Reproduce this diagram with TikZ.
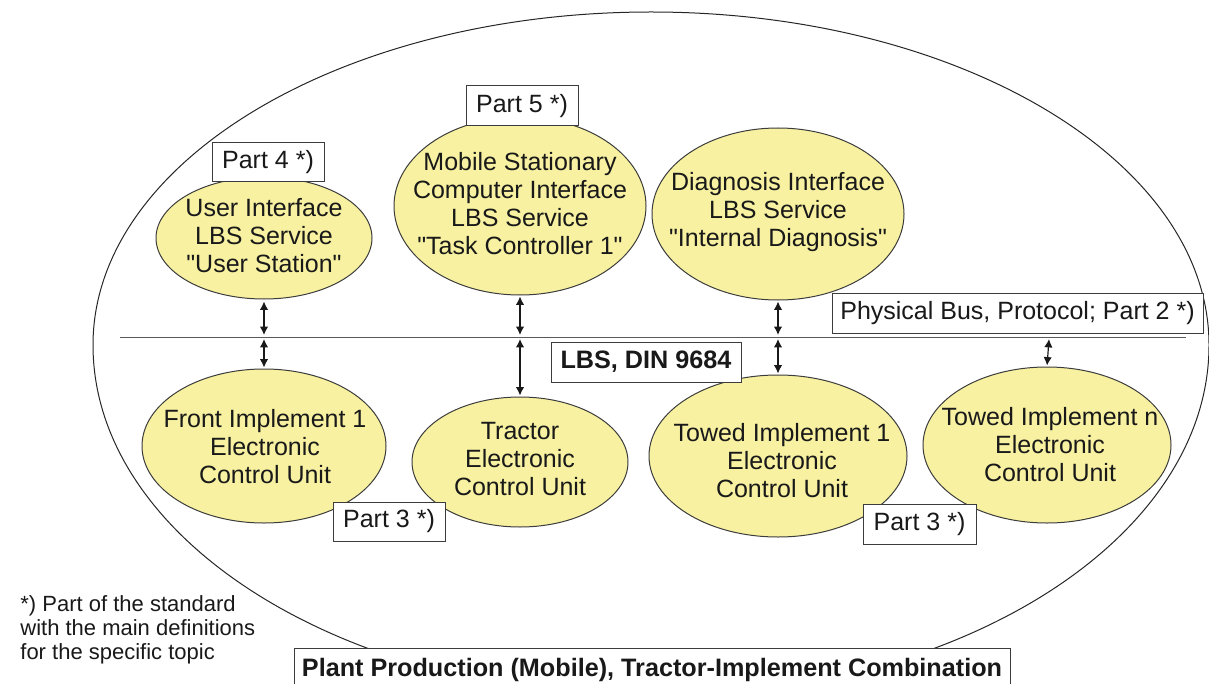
\documentclass[tikz,border=0pt]{standalone}
\usepackage{fontspec}
\setmainfont{Liberation Sans}[Ligatures=TeXOff]
\usetikzlibrary{shapes.geometric,arrows.meta}
\definecolor{ecufill}{RGB}{247,241,161}
\definecolor{edgegray}{RGB}{60,60,60}
\tikzset{
  ecu/.style={ellipse, draw=edgegray, line width=0.5pt, fill=ecufill, inner sep=0pt},
  ecutext/.style={align=center, inner sep=0pt, font=\fontsize{12.5pt}{14pt}\selectfont, text=black!90},
  partbox/.style={rectangle, draw=edgegray, line width=0.5pt, fill=white, inner sep=0pt,
    font=\fontsize{12.5pt}{14pt}\selectfont, text=black!90},
  boldbox/.style={partbox, font=\bfseries\fontsize{12.6pt}{14pt}\selectfont},
  biarrow/.style={{Latex[length=4.2pt,width=4.2pt]}-{Latex[length=4.2pt,width=4.2pt]}, line width=0.6pt, black!90},
  busline/.style={line width=0.5pt, black!65},
  outerline/.style={draw=black!85, line width=0.5pt}
}
\begin{document}
\begin{tikzpicture}[x=0.5pt,y=-0.5pt]
\useasboundingbox (0,0) rectangle (1209,684);
% big enclosing oval (upper half flatter than lower half)
\coordinate (bigW) at (93,345);
\draw[outerline] (bigW) arc[start angle=180, end angle=0, x radius=279pt, y radius=166.5pt]
  arc[start angle=0, end angle=-180, x radius=279pt, y radius=176pt];
% bus line
\coordinate (busL) at (120,337);
\coordinate (busR) at (1186,337);
\draw[busline] (busL) -- (busR);
% upper ellipses
\node[ecu, minimum width=108pt, minimum height=61pt] (ui) at (264,238) {};
\node[ecutext] (uiT) at (264,236) {User Interface\\LBS Service\\"User Station"};
\node[ecu, minimum width=126pt, minimum height=89pt] (msc) at (520,206) {};
\node[ecutext] (mscT) at (520,204) {Mobile Stationary\\Computer Interface\\LBS Service\\"Task Controller 1"};
\node[ecu, minimum width=126pt, minimum height=86pt] (diag) at (778,214) {};
\node[ecutext] (diagT) at (778,212) {Diagnosis Interface\\LBS Service\\"Internal Diagnosis"};
% lower ellipses
\node[ecu, minimum width=122pt, minimum height=77pt] (front) at (264,446) {};
\node[ecutext] (frontT) at (265,447) {Front Implement 1\\Electronic\\Control Unit};
\node[ecu, minimum width=108pt, minimum height=65pt] (tractor) at (520,462) {};
\node[ecutext] (tractorT) at (520,459) {Tractor\\Electronic\\Control Unit};
\node[ecu, minimum width=129pt, minimum height=81pt] (towed1) at (778,456) {};
\node[ecutext] (towed1T) at (782,461) {Towed Implement 1\\Electronic\\Control Unit};
\node[ecu, minimum width=124pt, minimum height=78pt] (towedn) at (1047,445) {};
\node[ecutext] (towednT) at (1050,445) {Towed Implement n\\Electronic\\Control Unit};
% boxes
\node[partbox, minimum width=56pt, minimum height=19.5pt] (p4) at (268,162) {Part 4 *)};
\node[partbox, minimum width=56pt, minimum height=20pt] (p5) at (522,106) {Part 5 *)};
\node[partbox, minimum width=185.5pt, minimum height=20pt] (phys) at (1017.5,313) {Physical Bus, Protocol; Part 2 *)};
\node[boldbox, minimum width=95pt, minimum height=20pt] (lbs) at (646,362) {LBS, DIN 9684};
\node[partbox, minimum width=56pt, minimum height=19.5pt] (p3a) at (389,521.5) {Part 3 *)};
\node[partbox, minimum width=56.5pt, minimum height=20pt] (p3b) at (919.5,524) {Part 3 *)};
\node[boldbox, minimum width=358pt, minimum height=22pt] (plant) at (652,670) {Plant Production (Mobile), Tractor-Implement Combination};
% footnote
\node[anchor=west, align=left, inner sep=0pt, font=\fontsize{11pt}{12pt}\selectfont, text=black!90] (note) at (20,630)
  {*) Part of the standard\\with the main definitions\\for the specific topic};
% bus connection points
\coordinate (u1) at (264,335); \coordinate (d1) at (264,339);
\coordinate (u2) at (520,335); \coordinate (d2) at (520,339);
\coordinate (u3) at (778,335); \coordinate (d3) at (778,339);
\coordinate (d4) at (1049,339);
% arrows
\draw[biarrow, shorten <=1pt] (ui.south) -- (u1);
\draw[biarrow, shorten >=0.5pt] (d1) -- (front.north);
\draw[biarrow, shorten <=0.5pt] (msc.south) -- (u2);
\draw[biarrow, shorten >=0.5pt] (d2) -- (tractor.north);
\draw[biarrow, shorten <=0.5pt] (diag.south) -- (u3);
\draw[biarrow, shorten >=0.5pt] (d3) -- (towed1.north);
\draw[biarrow, shorten >=0.5pt] (d4) -- (towedn.north);
\end{tikzpicture}
\end{document}
